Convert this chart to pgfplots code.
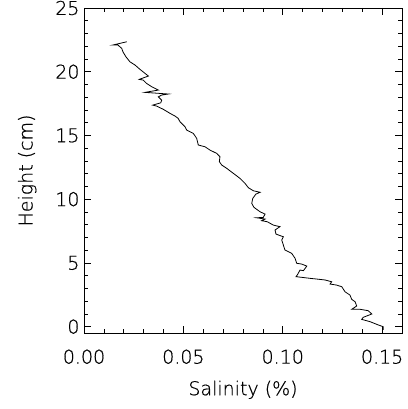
\documentclass[border=0pt]{standalone}
\usepackage{fontspec}
\setmainfont{DejaVu Sans}[UprightFont=* ExtraLight, UprightFeatures={FakeBold=0.6}]
\usepackage{pgfplots}
\pgfplotsset{compat=1.18}
\usetikzlibrary{calc}

\begin{document}
\begin{tikzpicture}
\begin{axis}[
  name=ax,
  scale only axis,
  width=318pt, height=325pt,
  xmin=0, xmax=0.16, ymin=-0.5, ymax=25,
  xtick distance=0.05, ytick distance=5,
  minor x tick num=4, minor y tick num=4,
  tick align=inside,
  major tick length=7pt, minor tick length=4pt,
  axis line style={line width=0.8pt},
  every tick/.style={black, line width=0.6pt},
  xticklabel style={/pgf/number format/fixed, /pgf/number format/fixed zerofill, /pgf/number format/precision=2, yshift=-13pt},
  yticklabel style={xshift=-1pt},
  /pgf/number format/assume math mode=true,
  tick label style={font=\fontsize{19}{22}\selectfont},
  label style={font=\fontsize{19}{22}\selectfont},
  xlabel={Salinity (\%)}, ylabel={Height (cm)},
  xlabel style={yshift=-10pt},
  ylabel style={yshift=12pt},
  scaled x ticks=false,
]
\addplot[black, line width=0.8pt] coordinates {
(0.0215,22.35) (0.0144,22.09) (0.0171,22.09) (0.0190,21.83) (0.0196,21.56)
(0.0211,21.17) (0.0231,20.78) (0.0257,20.52) (0.0282,20.18) (0.0307,19.87)
(0.0324,19.66) (0.0278,19.40) (0.0298,19.34) (0.0315,19.08) (0.0341,18.82)
(0.0374,18.56) (0.0307,18.38) (0.0424,18.25) (0.0391,18.17) (0.0374,18.03)
(0.0391,17.77) (0.0386,17.56) (0.0346,17.38) (0.0366,17.30) (0.0399,17.05)
(0.0433,16.73) (0.0458,16.52) (0.0474,16.34) (0.0483,16.07) (0.0508,15.68)
(0.0517,15.42) (0.0550,15.16) (0.0567,14.77) (0.0575,14.25) (0.0609,14.11)
(0.0634,13.85) (0.0668,13.59) (0.0684,13.33) (0.0681,12.94) (0.0693,12.68)
(0.0718,12.42) (0.0751,12.03) (0.0785,11.63) (0.0810,11.24) (0.0827,10.90)
(0.0852,10.66) (0.0886,10.54) (0.0865,10.40) (0.0849,10.06) (0.0844,9.67)
(0.0855,9.36) (0.0886,9.01) (0.0911,8.83) (0.0902,8.57) (0.0869,8.54)
(0.0911,8.44) (0.0894,8.31) (0.0922,8.23) (0.0952,7.97) (0.0986,7.84)
(0.0961,7.58) (0.0966,7.26) (0.1003,7.05) (0.0995,6.79) (0.1003,6.40)
(0.1011,6.01) (0.1045,5.75) (0.1062,5.36) (0.1070,4.97) (0.1095,4.91)
(0.1121,4.75) (0.1104,4.39) (0.1087,4.44) (0.1073,4.05) (0.1067,3.92)
(0.1137,3.79) (0.1213,3.66) (0.1246,3.52) (0.1238,3.34) (0.1271,3.26)
(0.1297,3.13) (0.1313,2.74) (0.1338,2.48) (0.1347,2.14) (0.1364,1.95)
(0.1372,1.62) (0.1347,1.36) (0.1389,1.36) (0.1430,1.25) (0.1448,0.99)
(0.1405,0.73) (0.1397,0.57) (0.1439,0.39) (0.1481,0.13) (0.1506,-0.01)
(0.1506,-0.26)
};
\end{axis}
\pgfresetboundingbox
\path ($(ax.south west)+(-84pt,-76pt)$) rectangle ($(ax.north east)+(6pt,8pt)$);
\end{tikzpicture}
\end{document}
